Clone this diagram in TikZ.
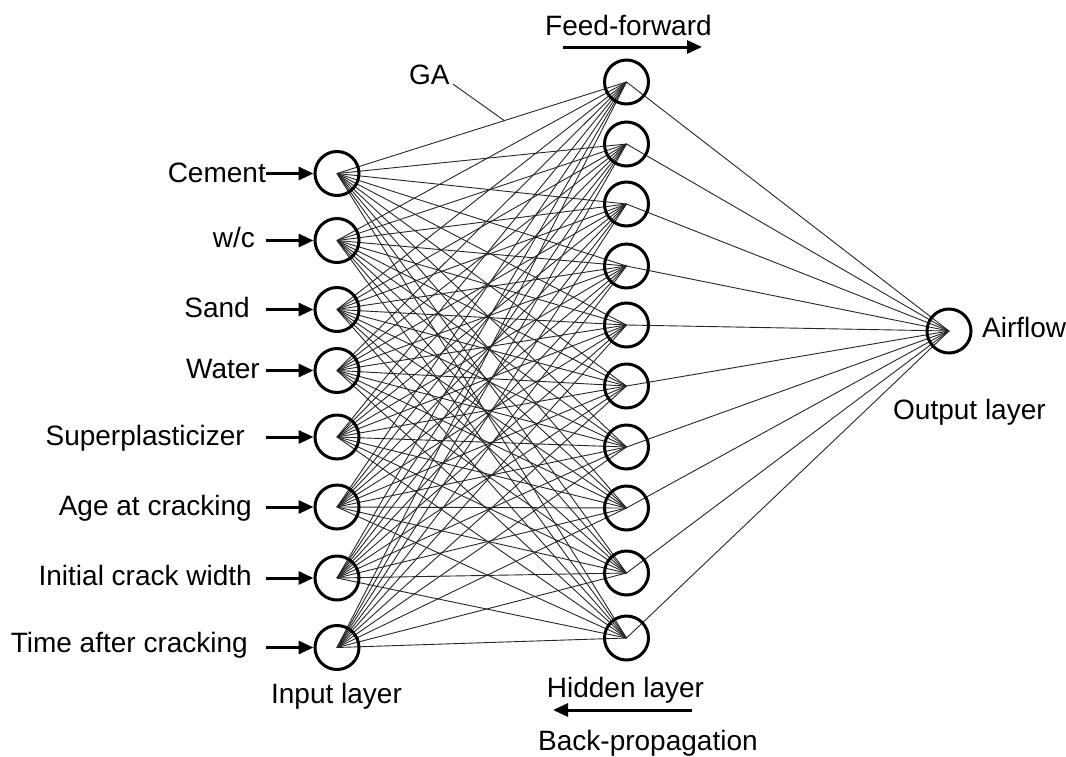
\documentclass[tikz,border=0pt]{standalone}
\usepackage{fontspec}
\setmainfont{Liberation Sans}
\usetikzlibrary{arrows.meta,backgrounds,calc}
\begin{document}
\begin{tikzpicture}[x=1pt,y=-1pt,
  neuron/.style={circle,draw,line width=3pt,minimum size=44pt,inner sep=0pt},
  link/.style={line width=0.9pt,black!85},
  flow/.style={line width=3pt,-{Triangle[length=15pt,width=13pt]}},
  lbl/.style={font=\fontsize{28}{32}\selectfont,inner sep=0pt}]
\useasboundingbox (0,0) rectangle (1066,756);

% input layer
\foreach \i/\y in {1/173.5,2/240.5,3/309.5,4/370.5,5/437,6/507,7/578,8/647.5}
  \node[neuron] (in\i) at (337,\y) {};
% hidden layer
\foreach \j/\y in {1/82,2/144,3/204,4/266,5/325,6/386,7/447,8/508,9/573,10/638}
  \node[neuron] (hid\j) at (626.5,\y) {};
% output layer
\node[neuron] (out) at (949,331) {};

% weighted connections, centre to centre, under the neurons
\begin{pgfonlayer}{background}
  \foreach \i in {1,...,8}
    \foreach \j in {1,...,10}
      \draw[link] (in\i.center) -- (hid\j.center);
  \foreach \j in {1,...,10}
    \draw[link] (hid\j.center) -- (out.center);
\end{pgfonlayer}

% input variables with their arrows
\foreach \i/\txt/\xe/\yb in {1/Cement/266/182,2/{w/c}/255/247,3/Sand/250/317,
    4/Water/260/378,5/Superplasticizer/245/445,6/Age at cracking/252/515,
    7/Initial crack width/252/585,8/Time after cracking/248/652}{
  \node[lbl,anchor=base east] (lab\i) at (\xe,\yb) {\txt};
  \coordinate (src\i) at ($(in\i.center)+(-71,0)$);
  \draw[flow] (src\i) -- (in\i.west);
}

% layer captions
\node[lbl,anchor=base] (inlab) at (336.5,703) {Input layer};
\node[lbl,anchor=base] (hidlab) at (625.5,697) {Hidden layer};
\node[lbl,anchor=base west] (outlab) at (893,419) {Output layer};
\node[lbl,anchor=base west] (airflow) at (982,337) {Airflow};

% training direction
\node[lbl,anchor=base west] (ff) at (545,35) {Feed-forward};
\coordinate (ffs) at (563,47);
\coordinate (ffe) at (702,47);
\draw[flow] (ffs) -- (ffe);
\node[lbl,anchor=base west] (bp) at (538,750) {Back-propagation};
\coordinate (bps) at (692,710);
\coordinate (bpe) at (553,710);
\draw[flow] (bps) -- (bpe);

% GA optimises the weights
\node[lbl,anchor=base west] (ga) at (409,84) {GA};
\coordinate (gaend) at ($(in1.center)!0.578!(hid1.center)$);
\draw[link] ($(ga.base east)+(3,0)$) -- (gaend);
\end{tikzpicture}
\end{document}
